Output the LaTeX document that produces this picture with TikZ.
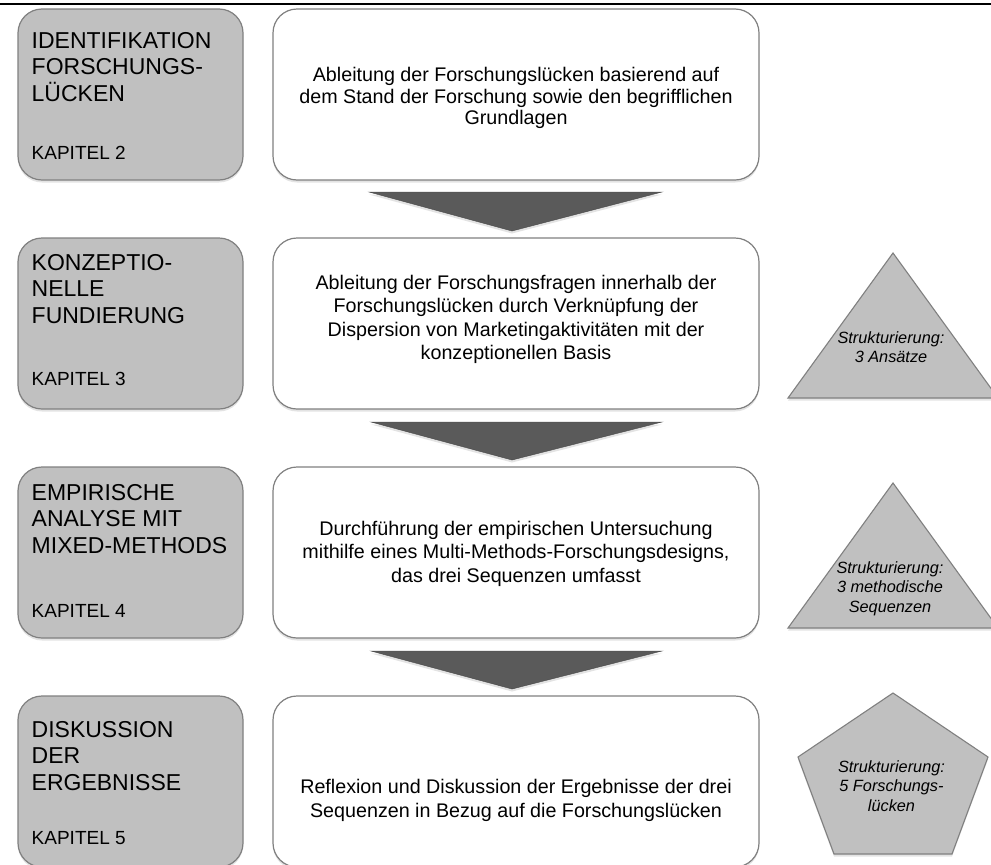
\documentclass[tikz,border=0pt]{standalone}
\usepackage{fontspec}
\setmainfont{Liberation Sans}
\usetikzlibrary{shadows}
\definecolor{boxgray}{RGB}{192,192,192}
\definecolor{edgegray}{RGB}{128,128,128}
\definecolor{arrowgray}{RGB}{90,90,90}
\begin{document}
\begin{tikzpicture}[x=1pt,y=-1pt,
  softshadow/.style={drop shadow={opacity=0.22, shadow xshift=0pt, shadow yshift=-2.5pt}},
  graybox/.style={draw=edgegray, line width=1.2pt, fill=boxgray, rounded corners=24pt,
    minimum width=225pt, minimum height=171pt, inner sep=0pt, softshadow},
  whitebox/.style={draw=edgegray, line width=1.2pt, fill=white, rounded corners=24pt,
    minimum width=486pt, minimum height=171pt, inner sep=0pt, softshadow},
  blockarrow/.style={fill=arrowgray, draw=arrowgray!80!black, line width=0.4pt, softshadow},
  struct/.style={fill=boxgray, draw=edgegray, line width=1.1pt, line join=miter, softshadow},
  title/.style={font=\fontsize{23}{26.8}\selectfont, align=left, inner sep=0pt, anchor=base west},
  kap/.style={font=\fontsize{19}{22}\selectfont, inner sep=0pt, anchor=base west},
  body/.style={font=\fontsize{19.7}{23.5}\selectfont, align=center, inner sep=0pt},
  itext/.style={font=\fontsize{16.3}{19.5}\selectfont\itshape, align=center, inner sep=0pt}
]
\useasboundingbox (0,0) rectangle (991,865);
\clip (0,0) rectangle (991,865);
\fill[white] (0,0) rectangle (991,865);
\draw[line width=2.6pt, black] (0,3.8) -- (991,3.8);

% left grey boxes
\node[graybox] (g1) at (130.5,94.5) {};
\node[graybox] (g2) at (130.5,323.5) {};
\node[graybox] (g3) at (130.5,552.5) {};
\node[graybox] (g4) at (130.5,781.5) {};

% white boxes
\node[whitebox] (w1) at (516,94.5) {};
\node[whitebox] (w2) at (516,323.5) {};
\node[whitebox] (w3) at (516,552.5) {};
\node[whitebox] (w4) at (516,781.5) {};

% block arrows
\path[blockarrow] (369,192) -- (662,192) -- (512,231) -- cycle;
\path[blockarrow] (371,422) -- (662,422) -- (512,460) -- cycle;
\path[blockarrow] (371,651) -- (662,651) -- (512,689) -- cycle;

% structure shapes
\path[struct] (893,253) -- (998,398) -- (788,398) -- cycle;
\path[struct] (893,483) -- (998,628) -- (788,628) -- cycle;
\path[struct] (893,693) -- (988,757) -- (952,854) -- (834,854) -- (798,757) -- cycle;

% grey box texts (anchored at the baseline of the last title line)
\node[title] (t1) at (31.5,101.6) {IDENTIFIKATION\\FORSCHUNGS-\\LÜCKEN};
\node[kap] (k1) at (31.5,159) {KAPITEL 2};
\node[title] (t2) at (31.5,323.6) {KONZEPTIO-\\NELLE\\FUNDIERUNG};
\node[kap] (k2) at (31.5,385) {KAPITEL 3};
\node[title] (t3) at (31.5,553.6) {EMPIRISCHE\\ANALYSE MIT\\MIXED-METHODS};
\node[kap] (k3) at (31.5,617) {KAPITEL 4};
\node[title] (t4) at (31.5,790.6) {DISKUSSION\\DER\\ERGEBNISSE};
\node[kap] (k4) at (31.5,844) {KAPITEL 5};

% white box texts
\node[body, font=\fontsize{19.7}{21.5}\selectfont] (b1) at (516,98) {Ableitung der Forschungslücken basierend auf\\dem Stand der Forschung sowie den begrifflichen\\Grundlagen};
\node[body] (b2) at (516,319.5) {Ableitung der Forschungsfragen innerhalb der\\Forschungslücken durch Verknüpfung der\\Dispersion von Marketingaktivitäten mit der\\konzeptionellen Basis};
\node[body] (b3) at (516,553.5) {Durchführung der empirischen Untersuchung\\mithilfe eines Multi-Methods-Forschungsdesigns,\\das drei Sequenzen umfasst};
\node[body] (b4) at (516,800.5) {Reflexion und Diskussion der Ergebnisse der drei\\Sequenzen in Bezug auf die Forschungslücken};

% structure texts
\node[itext] (s1) at (891,347) {Strukturierung:\\3 Ansätze};
\node[itext] (s2) at (890,588.5) {Strukturierung:\\3 methodische\\Sequenzen};
\node[itext] (s3) at (891.5,786) {Strukturierung:\\5 Forschungs-\\lücken};
\end{tikzpicture}
\end{document}
